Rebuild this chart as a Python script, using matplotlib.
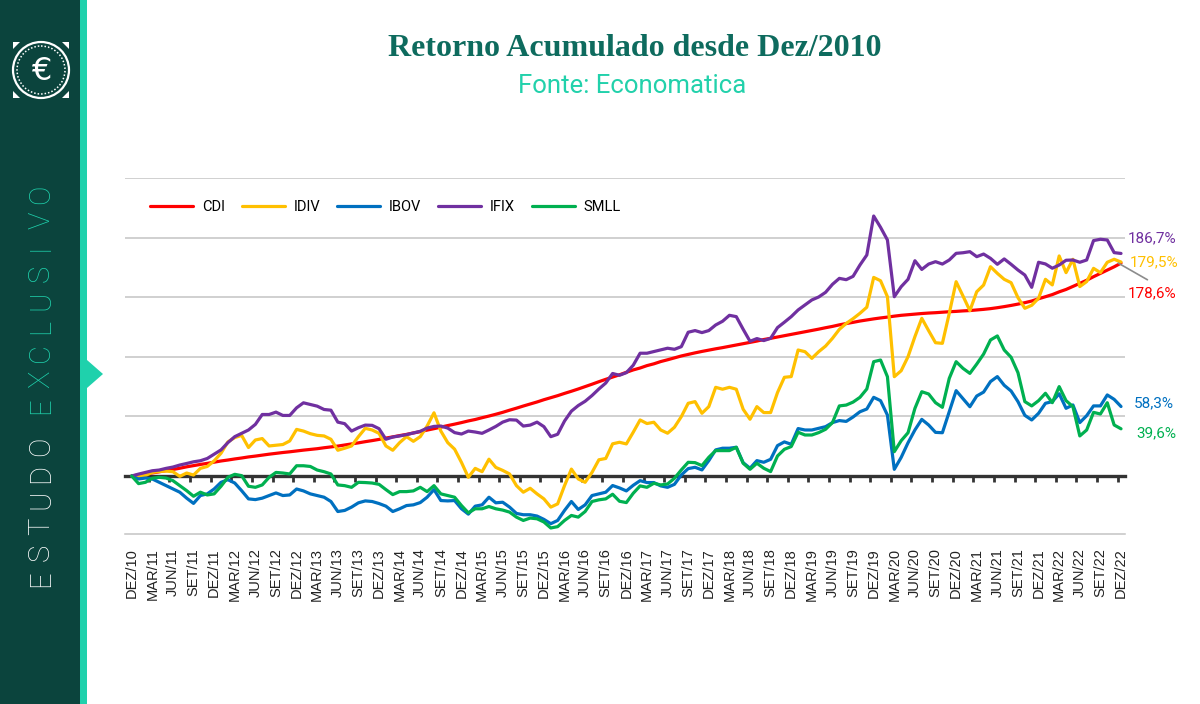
import matplotlib
matplotlib.use("Agg")
import matplotlib.pyplot as plt
from matplotlib.patches import Rectangle, Polygon, Circle
import numpy as np

W, H = 1200, 704

# ---------------- data (cumulative return, %) ----------------
tick_labels = ["DEZ/10"] + [f"{m}/{y:02d}" for y in range(11, 23)
                            for m in ("MAR", "JUN", "SET", "DEZ")]

cdi = [0,
       0.9, 1.7, 2.6, 3.5, 4.5, 5.5, 6.5, 7.7, 8.7, 9.7, 10.6, 11.6,
       12.6, 13.4, 14.3, 15.1, 16.0, 16.7, 17.5, 18.3, 19.0, 19.7, 20.3, 21.0,
       21.7, 22.3, 22.9, 23.7, 24.4, 25.1, 26.0, 26.9, 27.8, 28.8, 29.7, 30.7,
       31.8, 32.8, 33.9, 34.9, 36.1, 37.2, 38.5, 39.7, 41.0, 42.3, 43.5, 44.8,
       46.2, 47.4, 48.9, 50.3, 51.8, 53.4, 55.2, 56.9, 58.7, 60.4, 62.1, 64.0,
       65.7, 67.4, 69.3, 71.1, 73.0, 75.0, 77.0, 79.1, 81.1, 83.0, 84.9, 87.0,
       89.0, 90.6, 92.6, 94.1, 96.0, 97.5, 99.1, 100.7, 102.0, 103.3, 104.5, 105.6,
       106.7, 107.7, 108.8, 109.9, 111.0, 112.1, 113.2, 114.5, 115.5, 116.6, 117.7, 118.8,
       119.9, 121.0, 122.1, 123.2, 124.4, 125.5, 126.8, 127.9, 128.9, 130.0, 130.9, 131.8,
       132.6, 133.3, 134.1, 134.8, 135.3, 135.8, 136.3, 136.7, 137.0, 137.4, 137.8, 138.1,
       138.5, 138.8, 139.3, 139.8, 140.4, 141.2, 142.1, 143.1, 144.2, 145.4, 146.8, 148.7,
       150.4, 152.2, 154.5, 156.5, 159.0, 161.6, 164.2, 167.2, 170.0, 172.7, 175.5, 178.6]

idiv = [0, -0.3, 0.5, 3, 3.8, 4.1, 3.6, -0.3, 2.5, 0.8, 6.4, 8, 12.7,
        19.1, 28.6, 32.2, 34.1, 23.9, 30.2, 31.4, 25.2, 25.8, 26.4, 29.4, 39.1,
        37.7, 35.5, 34.1, 33.6, 30.8, 21.6, 23.3, 25.2, 33, 40.0, 38.6, 35.8,
        25.2, 21.6, 28, 33, 29.1, 33, 41.9, 53, 37.7, 28, 22.5, 11.4,
        -1.1, 6.4, 3.6, 14.1, 7.2, 4.7, 1.7, -8.1, -13.6, -10.3, -15, -19.2,
        -26.1, -23.4, -8.1, 5.8, -2.5, -5.3, 3, 13.6, 14.7, 27, 28.3, 26.9,
        36.7, 47, 44, 45.1, 38.6, 35.9, 40.9, 49.8, 61, 62.4, 52.6, 58.2,
        74.4, 72.8, 74.4, 72.8, 56, 47.6, 58.2, 53.2, 53.2, 70, 82.8, 83.4,
        105.7, 104.3, 98.7, 104.3, 109, 115.5, 123, 128, 132, 136.5, 141.6, 166.6,
        163.8, 150.4, 83.3, 88.3, 100.1, 116.9, 132.3, 121.9, 111.8, 111.3, 136.4, 163,
        151, 138.7, 154.6, 160.2, 175.6, 170, 165, 162.2, 149.6, 140.7, 143.2, 149.1,
        165, 160.3, 184.6, 170.6, 181.8, 158.9, 163.1, 174.2, 170.6, 179.3, 181.8, 179.5]

ibov = [0, -2.5, -1.7, -2.5, -5.3, -8.1, -10.9, -13.6, -18.6, -23, -16.4, -15, -10.9,
        -5.3, -3.1, -5.9, -12.3, -19.2, -19.8, -18.6, -16.4, -14.2, -16.4, -15.9, -10.9,
        -12.5, -15, -16.4, -17.8, -21.4, -29.8, -28.9, -26.1, -22.5, -20.9, -21.4, -23.1,
        -25.3, -29.8, -27.5, -24.8, -24.2, -22.3, -17.8, -11.4, -20.6, -20.9, -20.6, -27.5,
        -32, -25.3, -24.2, -17.8, -22.5, -22, -26.1, -31.4, -32.5, -32.5, -33.6, -36.4,
        -40, -37.3, -28.9, -21.4, -28.1, -24.2, -16.4, -15, -13.6, -8, -10, -12.5,
        -7.8, -3.9, -5.5, -5.5, -8.3, -9.5, -7, 0.9, 6.2, 7.3, 5.1, 12.9,
        21.9, 23.3, 23.3, 24.1, 11.2, 6.5, 12.9, 11.5, 14, 25.5, 28.6, 26.6,
        39.8, 38.6, 38.6, 40, 41.4, 44.8, 46.5, 45.8, 49.5, 53.9, 56.2, 66,
        63.2, 51.1, 5.6, 15.6, 27.9, 38.6, 47.5, 42.8, 36.6, 36.3, 53.9, 71.6,
        64.8, 58.1, 67.1, 70.4, 79.2, 83.4, 76.1, 71.3, 62.4, 50.9, 47, 52.6,
        61, 62.4, 69, 56.8, 59.6, 44.8, 50.6, 58.8, 58.8, 68, 64.3, 58.3]

ifix = [0, 1.6, 3, 4.4, 5, 6.4, 7.5, 9.2, 10.5, 11.9, 12.8, 14.7, 18.3,
        21.9, 28, 33, 35.8, 38.6, 43.3, 51.6, 51.6, 53.6, 50.8, 50.8, 57.2,
        61.4, 60, 58.6, 55.8, 55.2, 45.2, 43.9, 37.7, 40.5, 42.7, 42.5, 39.7,
        30.8, 32.7, 33.6, 34.7, 36.1, 37.5, 40.2, 41.6, 41.9, 40.2, 36.4, 35.2,
        37.7, 36.9, 35.8, 38.6, 41.6, 45.2, 47.2, 46.9, 41.9, 42.7, 45.2, 41.4,
        33, 35, 46.1, 54.4, 59.1, 62.7, 67.5, 73, 78, 86, 84.5, 86.7,
        92.9, 103, 103, 104.4, 105.8, 107.2, 106.3, 108.5, 120.6, 122, 120.3, 122,
        126.7, 129.8, 134.8, 133.7, 123.1, 113, 115.3, 113.6, 115.5, 124.5, 129, 133.7,
        139.3, 143.5, 147.7, 150.2, 154.1, 160.8, 165.8, 164.7, 167.5, 177, 185.4, 218.1,
        208.6, 198, 150.4, 158.8, 165, 180.6, 173.3, 177.8, 179.8, 177.8, 181.2, 186.8,
        187.3, 188.2, 184, 186.2, 182.6, 177.6, 182.1, 177.6, 172.8, 168.6, 158.3, 179.3,
        177.9, 174.3, 177, 181, 181.2, 179.3, 181.2, 197.5, 198.6, 198, 187.4, 186.7]

smll = [0, -6.4, -5.3, -1.9, -1.1, -1.7, -3.9, -8.1, -12.3, -17, -13.6, -15.9, -15,
        -8.6, -1.1, 1.4, 0.3, -8.6, -9.5, -7.5, -1.1, 3, 2.5, 1.7, 8.6,
        8.6, 8, 5, 3.6, 1.7, -7.5, -8.1, -9.5, -5.3, -5.5, -5.9, -7,
        -11.4, -15.6, -13.1, -13.1, -12.5, -9.5, -13.1, -8.1, -15, -16.4, -17.8, -24.8,
        -30.9, -27.5, -27.5, -25.6, -27.5, -28.6, -30.3, -34.5, -37.3, -35.3, -35.9, -38.6,
        -43.6, -42.5, -37.3, -33.1, -34.5, -29.8, -21.4, -20, -19.2, -15.3, -21.2, -22.3,
        -14.5, -8.3, -9.5, -6.1, -7.5, -6.7, -1.9, 5.1, 11.5, 11.2, 8.7, 15.7,
        21.3, 21.3, 21.3, 24.1, 10.7, 5.6, 10.7, 6.5, 3.7, 16.8, 22.4, 24.7,
        36.7, 34.4, 34.4, 36.4, 39.2, 44.8, 58.8, 59.5, 62, 66, 73, 95.9,
        97.3, 83.3, 20.4, 29.6, 36.3, 56.7, 70.7, 68.8, 61.5, 57.6, 81.9, 95.9,
        90.3, 86.1, 93.9, 102.3, 114.1, 117.5, 105.7, 99.6, 86.7, 62.4, 58.8, 63.2,
        69.4, 61.5, 75, 63.2, 58.2, 33.6, 38.6, 53.4, 52, 61.5, 42.8, 39.6]

series_names = ["CDI", "IDIV", "IBOV", "IFIX", "SMLL"]
series_values = [cdi, idiv, ibov, ifix, smll]
series_colors = ["#ff0000", "#ffc000", "#0070c0", "#7030a0", "#00b050"]
end_labels = ["178,6%", "179,5%", "58,3%", "186,7%", "39,6%"]
# label offsets (points) from last data point
end_offsets = [(5, -22), (6, 0), (9, 2), (5, 11), (11, -3)]

# ---------------- figure ----------------
fig = plt.figure(figsize=(W / 100, H / 100), dpi=100)
fig.patch.set_facecolor("white")

bg = fig.add_axes([0, 0, 1, 1], zorder=0)
bg.set_xlim(0, W)
bg.set_ylim(H, 0)
bg.axis("off")

dark = "#0b443d"
teal = "#1fd1ac"
bg.add_patch(Rectangle((0, 0), 80, H, color=dark, lw=0))
bg.add_patch(Rectangle((80, 0), 7, H, color=teal, lw=0))
bg.add_patch(Polygon([[87, 360], [103, 374], [87, 388]], closed=True, color=teal, lw=0))

# logo
bg.add_patch(Circle((41, 70), 28, fill=False, ec="white", lw=1.6))
bg.add_patch(Circle((41, 70), 24, fill=False, ec="white", lw=1.1, ls=(0, (1, 1.3))))
for (cx, cy, dx, dy) in [(13, 42, 1, 1), (69, 42, -1, 1), (13, 98, 1, -1), (69, 98, -1, -1)]:
    bg.add_patch(Polygon([[cx, cy], [cx + 7 * dx, cy], [cx, cy + 7 * dy]], closed=True,
                         color="white", lw=0))
bg.text(41, 71, "€", color="white", fontsize=23,
        ha="center", va="center", family="DejaVu Sans")

# vertical sidebar text, one character at a time
pitch = 26.5
for k, ch in enumerate("ESTUDO"):
    bg.text(41, 579 - k * pitch, ch, rotation=90, ha="center", va="center",
            color="white", fontsize=21, family="Roboto", fontweight="light")
for k, ch in enumerate("EXCLUSIVO"):
    bg.text(41, 406 - k * pitch, ch, rotation=90, ha="center", va="center",
            color=teal, fontsize=21, family="Roboto", fontweight="light")

# titles
fig.text(635 / W, 1 - 48 / H, "Retorno Acumulado desde Dez/2010", ha="center", va="center",
         color="#0e6b5e", fontsize=23, fontweight="bold", family="Liberation Serif")
fig.text(632 / W, 1 - 86 / H, "Fonte: Economatica", ha="center", va="center",
         color="#22d1ab", fontsize=18.5, family="Roboto")

# ---------------- chart ----------------
ax = fig.add_axes([125 / W, 1 - 534 / H, 1000 / W, 356 / H], zorder=1)
ax.set_facecolor("none")
x = np.arange(len(cdi))
handles = []
for name, vals, col in zip(series_names, series_values, series_colors):
    ln, = ax.plot(x, vals, color=col, lw=2.3, label=name, zorder=3,
                  solid_joinstyle="round", solid_capstyle="round")
    handles.append(ln)

ax.set_xlim(-0.975, 144.58)
ax.set_ylim(-48.66, 250)
ax.set_yticks([50, 100, 150, 200, 250])
ax.yaxis.grid(True, color="#c3c3c3", lw=1.1)
ax.set_axisbelow(True)
ax.tick_params(axis="y", length=0, labelleft=False)
for s in ("left", "right", "top"):
    ax.spines[s].set_visible(False)
ax.spines["bottom"].set_position(("data", 0))
ax.spines["bottom"].set_color("#333333")
ax.spines["bottom"].set_linewidth(2.4)
ax.set_xticks(np.arange(2.5, 144, 3))
ax.tick_params(axis="x", direction="out", length=4.5, width=2, color="#333333",
               labelbottom=False)

sec = ax.secondary_xaxis("bottom")
sec.set_xticks(np.arange(0, len(cdi), 3), labels=tick_labels)
sec.tick_params(length=0, pad=10, labelsize=10.5, labelrotation=90, labelcolor="#222222")
for lab in sec.get_xticklabels():
    lab.set_family("Liberation Sans")
sec.spines["bottom"].set_color("#c3c3c3")
sec.spines["bottom"].set_linewidth(1.1)

# end labels
for vals, col, txt, off in zip(series_values, series_colors, end_labels, end_offsets):
    ax.annotate(txt, xy=(x[-1], vals[-1]), xytext=off, textcoords="offset points",
                ha="left", va="center", color=col, fontsize=11, family="Roboto",
                annotation_clip=False)
# leader line for CDI label
ax.annotate("", xy=(x[-1] - 0.4, cdi[-1]), xytext=(21, -12), textcoords="offset points",
            arrowprops=dict(arrowstyle="-", color="#8c8c8c", lw=1.2, shrinkA=0, shrinkB=0),
            annotation_clip=False)

fig.legend(handles, series_names, loc="center left", bbox_to_anchor=(150 / W, 1 - 207 / H),
           ncol=5, frameon=False, handlelength=2.95, handletextpad=0.6, columnspacing=1.16,
           borderpad=0, borderaxespad=0, prop={"family": "Roboto", "size": 10.5})

fig.savefig("out.png", dpi=100, facecolor="white")
